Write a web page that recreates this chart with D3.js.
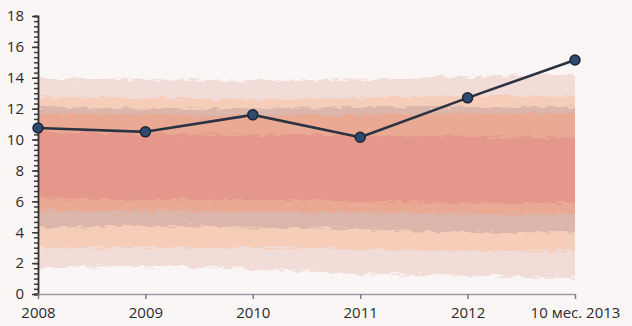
<!DOCTYPE html>
<html>
<head>
<meta charset="utf-8">
<script src="https://cdn.jsdelivr.net/npm/d3@7"></script>
<style>
  html, body { margin: 0; padding: 0; background: #faf6f5; }
  svg { display: block; }
  text { font-family: "Open Sans", "Liberation Sans", sans-serif; }
</style>
</head>
<body>
<svg id="chart" width="632" height="326"></svg>
<script>
// ---- data ----
const categories = ["2008", "2009", "2010", "2011", "2012", "10 мес. 2013"];
const values = [10.75, 10.5, 11.6, 10.15, 12.7, 15.15];
const yTicks = [0, 2, 4, 6, 8, 10, 12, 14, 16, 18];

// background bands: [lower, upper] per category (value units), colour
const bandColors = ["#f2dcd8", "#f5cdb8", "#dcb6ab", "#eaa993", "#e5978b"];
const bandLower = [
  [1.7, 1.8, 1.6, 1.3, 1.2, 1.0],
  [3.0, 3.0, 3.0, 2.9, 2.8, 2.8],
  [4.3, 4.4, 4.3, 4.2, 4.0, 4.0],
  [5.3, 5.4, 5.3, 5.3, 5.2, 5.2],
  [6.2, 6.1, 6.1, 6.0, 5.9, 5.9]
];
const bandUpper = [
  [14.0, 13.9, 13.8, 13.9, 14.1, 14.2],
  [12.75, 12.7, 12.6, 12.7, 12.8, 12.8],
  [12.1, 12.0, 12.0, 12.1, 12.1, 12.1],
  [11.7, 11.6, 11.5, 11.6, 11.7, 11.7],
  [10.5, 10.4, 10.3, 10.3, 10.2, 10.1]
];

// ---- layout ----
const svg = d3.select("#chart");
const mLeft = 38, mRight = 575, mTop = 16, mBottom = 294;

const x = d3.scalePoint().domain(categories).range([mLeft, mRight]);
const y = d3.scaleLinear().domain([0, 18]).range([mBottom, mTop]);

const defs = svg.append("defs");
const f = defs.append("filter").attr("id", "rough")
  .attr("x", "-5%").attr("y", "-10%").attr("width", "110%").attr("height", "120%");
f.append("feTurbulence").attr("type", "fractalNoise")
  .attr("baseFrequency", "0.09 0.35").attr("numOctaves", 3).attr("seed", 4).attr("result", "n");
f.append("feDisplacementMap").attr("in", "SourceGraphic").attr("in2", "n")
  .attr("scale", 9).attr("xChannelSelector", "R").attr("yChannelSelector", "G");

defs.append("clipPath").attr("id", "plotclip")
  .append("rect").attr("x", mLeft + 1).attr("y", 0).attr("width", mRight - mLeft - 1).attr("height", mBottom);

const bandsG = svg.append("g").attr("clip-path", "url(#plotclip)")
  .append("g").attr("filter", "url(#rough)");

bandColors.forEach((c, b) => {
  const pts = categories.map((_, i) => [bandLower[b][i], bandUpper[b][i]]);
  const ext = d3.area()
    .x((d, i) => i === 0 ? x(categories[0]) - 10 : (i === pts.length - 1 ? x(categories[i]) + 10 : x(categories[i])))
    .y0(d => y(d[0])).y1(d => y(d[1])).curve(d3.curveMonotoneX);
  bandsG.append("path").attr("d", ext(pts)).attr("fill", c);
});

// ---- axes ----
const yAxisG = svg.append("g").attr("transform", `translate(${mLeft},0)`);
const minor = d3.range(0, 18.001, 2 / 6);
yAxisG.call(d3.axisLeft(y).tickValues(minor).tickSize(4).tickFormat(""));
yAxisG.selectAll(".tick line").attr("stroke", "#3a3a3a").attr("stroke-width", 1.5);
yAxisG.select(".domain").attr("stroke", "#333").attr("stroke-width", 1.8);

const yLabels = svg.append("g").attr("transform", `translate(${mLeft},0)`)
  .call(d3.axisLeft(y).tickValues(yTicks).tickSize(6).tickPadding(8));
yLabels.select(".domain").remove();
yLabels.selectAll(".tick line").attr("stroke", "#3a3a3a").attr("stroke-width", 1.5);
yLabels.selectAll(".tick text").attr("fill", "#2b2b2b")
  .style("font-size", "15px").style("font-family", "'Open Sans', sans-serif");

const xAxisG = svg.append("g").attr("transform", `translate(0,${mBottom})`)
  .call(d3.axisBottom(x).tickSize(5).tickPadding(8).tickSizeOuter(0));
xAxisG.select(".domain").attr("stroke", "#9a9aa6").attr("stroke-width", 1.5);
xAxisG.selectAll(".tick line").attr("stroke", "#7a7a86").attr("stroke-width", 1.5);
xAxisG.selectAll(".tick text").attr("fill", "#2b2b2b")
  .style("font-size", "15px").style("font-family", "'Open Sans', sans-serif");

// ---- line & markers ----
const line = d3.line().x((d, i) => x(categories[i])).y(d => y(d));
svg.append("path").datum(values).attr("d", line)
  .attr("fill", "none").attr("stroke", "#2a3244").attr("stroke-width", 2.6)
  .attr("stroke-linejoin", "round");

svg.append("g").selectAll("circle").data(values).join("circle")
  .attr("cx", (d, i) => x(categories[i]))
  .attr("cy", d => y(d))
  .attr("r", 5)
  .attr("fill", "#2f4b70")
  .attr("stroke", "#1e2636")
  .attr("stroke-width", 1.5);
</script>
</body>
</html>
